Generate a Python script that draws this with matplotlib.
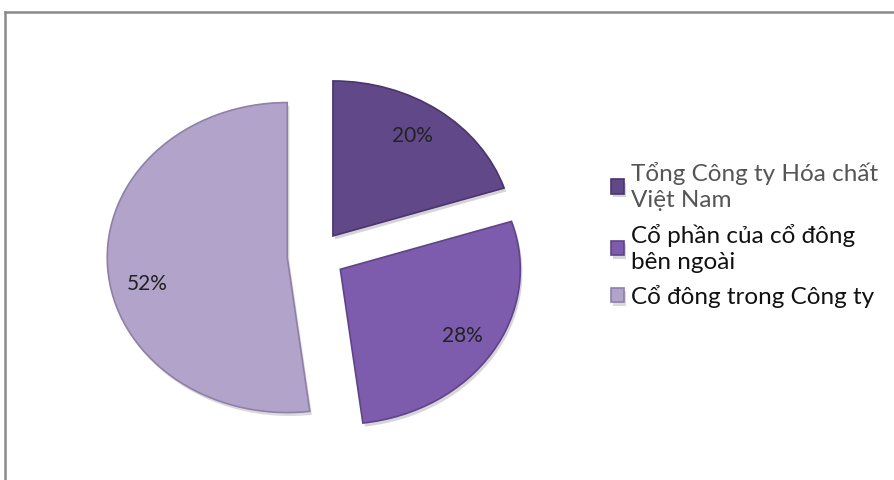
"""
plot.py
Exploded pie chart of shareholder structure (Vietnamese labels).
"""
import matplotlib
matplotlib.use('Agg')
import matplotlib.pyplot as plt
import matplotlib.patheffects as pe
from matplotlib.lines import Line2D

# === DATA ===
labels = ['Tổng Công ty Hóa chất\nViệt Nam', 'Cổ phần của cổ đông\nbên ngoài', 'Cổ đông trong Công ty']
shares = [20, 28, 52]
colors = ['#614888', '#7D5BAD', '#B1A3C9']
edge_colors = ['#4A366A', '#5F4588', '#8E80A6']
legend_text_colors = ['#555555', '#111111', '#111111']

plt.rcParams['font.family'] = ['Lato', 'DejaVu Sans']

W, H = 895, 480
fig = plt.figure(figsize=(W / 100, H / 100), dpi=100)

# pie axes: centre ~ (316, 256) px, radius 180 px wide x 155 px tall
cx, cy = 316, 256
rx, ry = 180, 155
lim_x, lim_y = 1.5, 1.4
ax = fig.add_axes([(cx - lim_x * rx) / W, (H - cy - lim_y * ry) / H,
                   2 * lim_x * rx / W, 2 * lim_y * ry / H])

wedges, texts, autotexts = ax.pie(
    shares, colors=colors, startangle=90, counterclock=False,
    explode=[0.16, 0.16, 0.16], autopct='%d%%', pctdistance=0.8,
    wedgeprops=dict(linewidth=1.2),
    textprops=dict(fontsize=15, color='#222222'))
for w, ec in zip(wedges, edge_colors):
    w.set_edgecolor(ec)
    w.set_path_effects([pe.SimplePatchShadow(offset=(1.5, -2.5), alpha=0.18), pe.Normal()])
# Excel drops the big slice's label a little below the mid-angle
x3, y3 = autotexts[2].get_position()
autotexts[2].set_position((x3 + 0.02, y3 - 0.12))
x1, y1 = autotexts[0].get_position()
autotexts[0].set_position((x1 - 0.03, y1))
ax.set_aspect('auto')
ax.set_xlim(-lim_x, lim_x)
ax.set_ylim(-lim_y, lim_y)

# Legend
leg = fig.legend(wedges, labels, loc='center left',
                 bbox_to_anchor=(589 / W, 1 - 235 / H),
                 frameon=False, fontsize=17.5, handlelength=0.55, handleheight=0.55,
                 handletextpad=0.28, labelspacing=0.5)
for t, c in zip(leg.get_texts(), legend_text_colors):
    t.set_color(c)
    t.set_linespacing(1.3)

# Chart frame (top and left border)
fig.add_artist(Line2D([5 / W, 5 / W], [0, 1 - 12 / H], transform=fig.transFigure,
                      color='#8A8A8A', lw=1.8))
fig.add_artist(Line2D([5 / W, 1], [1 - 12 / H, 1 - 12 / H], transform=fig.transFigure,
                      color='#8A8A8A', lw=1.8))

fig.savefig('out.png', dpi=100, facecolor='white')
